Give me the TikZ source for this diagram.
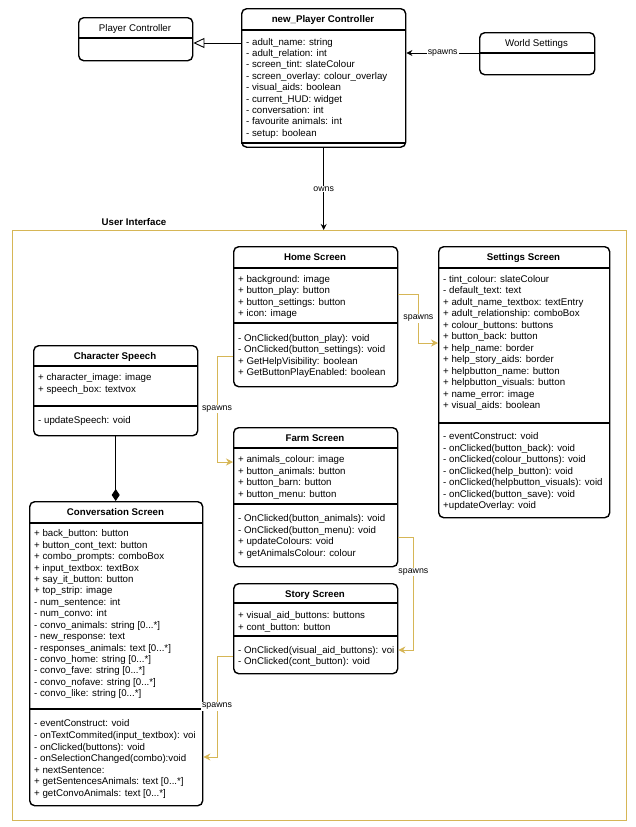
\documentclass[tikz,border=0pt]{standalone}
\usepackage{fontspec}
\setmainfont{Liberation Sans}
\usetikzlibrary{arrows.meta,calc}
\definecolor{gold}{HTML}{D6B656}
\newcommand\thrdots{...}
\newcommand\memlist[5]{% #1 prefix, #2 x, #3 first baseline, #4 spacing, #5 list
  \foreach \t [count=\i from 0] in {#5} {\node[member] (#1\i) at (#2, #3+\i*#4) {\t};}}
\begin{document}
\begin{tikzpicture}[x=1pt,y=-1pt,
  umlbox/.style={draw, line width=1.4pt, rounded corners=5pt, inner sep=0pt, anchor=north west},
  divl/.style={line width=1.3pt},
  title/.style={font=\fontsize{9.7}{11.5}\selectfont\bfseries, inner sep=0pt, anchor=base},
  plaintitle/.style={font=\fontsize{9.7}{11.5}\selectfont, inner sep=0pt, anchor=base},
  member/.style={font=\fontsize{9.7}{11.5}\selectfont, inner sep=0pt, anchor=base west},
  spawn/.style={draw=gold, line width=0.9pt, -{Stealth[length=7pt,width=7pt]}},
  blackarrow/.style={draw=black, line width=0.9pt, -{Stealth[length=6pt,width=6pt]}},
  lbl/.style={font=\fontsize{8.8}{10}\selectfont, fill=white, inner sep=1pt},
]
\useasboundingbox (0,0) rectangle (636,827);

% ---------- container
\node[draw=gold, line width=1.4pt, inner sep=0pt, anchor=north west,
      minimum width=614pt, minimum height=590pt] (ui) at (12,230) {};
\node[title] (uilbl) at (134,225.5) {User Interface};

% ---------- Player Controller
\node[umlbox, minimum width=114pt, minimum height=43pt] (pc) at (78,17) {};
\draw[divl] (78,38) -- (192,38);
\node[plaintitle] (pct) at (135,31.2) {Player Controller};

% ---------- new_Player Controller
\node[umlbox, minimum width=164pt, minimum height=138.5pt] (np) at (241,8) {};
\draw[divl] (241,30) -- (405,30);
\draw[divl] (241,143) -- (405,143);
\node[title] (npt) at (323,22.5) {new\_Player Controller};
\memlist{npa}{246}{45}{11.4}{{- adult\_name: string},{- adult\_relation: int},{- screen\_tint: slateColour},{- screen\_overlay: colour\_overlay},{- visual\_aids: boolean},{- current\_HUD: widget},{- conversation: int},{- favourite animals: int},{- setup: boolean}}

% ---------- World Settings
\node[umlbox, minimum width=115pt, minimum height=42pt] (ws) at (479,32) {};
\draw[divl] (479,53) -- (594,53);
\node[plaintitle] (wst) at (536.5,46.2) {World Settings};

% ---------- Home Screen
\node[umlbox, minimum width=164pt, minimum height=140pt] (home) at (233,246) {};
\draw[divl] (233,268) -- (397,268);
\draw[divl] (233,323) -- (397,323);
\node[title] (homet) at (315,260.2) {Home Screen};
\memlist{homea}{238}{282.5}{11.4}{{+ background: image},{+ button\_play: button},{+ button\_settings: button},{+ icon: image}}
\memlist{homem}{238}{341.5}{11.4}{{- OnClicked(button\_play): void},{- OnClicked(button\_settings): void},{+ GetHelpVisibility: boolean},{+ GetButtonPlayEnabled: boolean}}

% ---------- Settings Screen
\node[umlbox, minimum width=171pt, minimum height=271pt] (settings) at (438,246) {};
\draw[divl] (438,268) -- (609,268);
\draw[divl] (438,423) -- (609,423);
\node[title] (settingst) at (523.5,260.2) {Settings Screen};
\memlist{seta}{443}{282.5}{11.45}{{- tint\_colour: slateColour},{- default\_text: text},{+ adult\_name\_textbox: textEntry},{+ adult\_relationship: comboBox},{+ colour\_buttons: buttons},{+ button\_back: button},{+ help\_name: border},{+ help\_story\_aids: border},{+ helpbutton\_name: button},{+ helpbutton\_visuals: button},{+ name\_error: image},{+ visual\_aids: boolean}}
\memlist{setm}{443}{439.5}{11.55}{{- eventConstruct: void},{- onClicked(button\_back): void},{- onClicked(colour\_buttons): void},{- onClicked(help\_button): void},{- onClicked(helpbutton\_visuals): void},{- onClicked(button\_save): void},{+updateOverlay: void}}

% ---------- Character Speech
\node[umlbox, minimum width=164pt, minimum height=90pt] (charsp) at (33,345) {};
\draw[divl] (33,366) -- (197,366);
\draw[divl] (33,406) -- (197,406);
\node[title] (charspt) at (115,359.5) {Character Speech};
\memlist{chara}{38}{380.5}{11.8}{{+ character\_image: image},{+ speech\_box: textvox}}
\memlist{charm}{38}{423.5}{11.4}{{- updateSpeech: void}}

% ---------- Conversation Screen
\node[umlbox, minimum width=173pt, minimum height=304pt] (conv) at (29,501) {};
\draw[divl] (29,523) -- (202,523);
\draw[divl] (29,709) -- (202,709);
\node[title] (convt) at (115.5,515.8) {Conversation Screen};
\memlist{conva}{34}{536.8}{11.43}{{+ back\_button: button},{+ button\_cont\_text: button},{+ combo\_prompts: comboBox},{+ input\_textbox: textBox},{+ say\_it\_button: button},{+ top\_strip: image},{- num\_sentence: int},{- num\_convo: int},{- convo\_animals: string [0\thrdots*]},{- new\_response: text},{- responses\_animals: text [0\thrdots*]},{- convo\_home: string [0\thrdots*]},{- convo\_fave: string [0\thrdots*]},{- convo\_nofave: string [0\thrdots*]},{- convo\_like: string [0\thrdots*]}}
\memlist{convm}{34}{726.8}{11.6}{{- eventConstruct: void},{- onTextCommited(input\_textbox): voi},{- onClicked(buttons): void},{- onSelectionChanged(combo):void},{+ nextSentence:},{+ getSentencesAnimals: text [0\thrdots*]},{+ getConvoAnimals: text [0\thrdots*]}}

% ---------- Farm Screen
\node[umlbox, minimum width=164pt, minimum height=139pt] (farm) at (233,427) {};
\draw[divl] (233,448) -- (397,448);
\draw[divl] (233,504) -- (397,504);
\node[title] (farmt) at (315,441.2) {Farm Screen};
\memlist{farma}{238}{462.8}{11.4}{{+ animals\_colour: image},{+ button\_animals: button},{+ button\_barn: button},{+ button\_menu: button}}
\memlist{farmm}{238}{521.8}{11.4}{{- OnClicked(button\_animals): void},{- OnClicked(button\_menu): void},{+ updateColours: void},{+ getAnimalsColour: colour}}

% ---------- Story Screen
\node[umlbox, minimum width=164pt, minimum height=90pt] (story) at (233,583) {};
\draw[divl] (233,603) -- (397,603);
\draw[divl] (233,636) -- (397,636);
\node[title] (storyt) at (315,597.5) {Story Screen};
\memlist{storya}{238}{618.5}{11.6}{{+ visual\_aid\_buttons: buttons},{+ cont\_button: button}}
\memlist{storym}{238}{653.5}{11.3}{{- OnClicked(visual\_aid\_buttons): voi},{- OnClicked(cont\_button): void}}

% ---------- connectors
\draw[line width=0.9pt, -{Triangle[open,length=11pt,width=10pt]}]
  ([yshift=-35pt]np.north west) -- (pc.east |- 0,43);
\draw[blackarrow] (ws.west |- 0,53) -- node[lbl]{spawns} (np.east |- 0,53);
\draw[blackarrow, line width=1.1pt] (np.south) -- node[lbl]{owns} (np.south |- ui.north);
\draw[line width=0.9pt, -{Diamond[length=12pt,width=8pt]}]
  (charsp.south) -- (charsp.south |- conv.north);

\draw[spawn] ([yshift=-48pt]home.north east) -- ++(20,0) -- node[lbl]{spawns} ++(0,49) -- (settings.west |- 0,343);
\draw[spawn] ([yshift=-110pt]home.north west) -- ++(-16,0) -- node[lbl]{spawns} ++(0,106) -- (farm.west |- 0,462);
\draw[spawn] ([yshift=-110pt]farm.north east) -- ++(15,0) -- node[lbl,pos=0.31]{spawns} ++(0,113) -- (story.east |- 0,650);
\draw[spawn] ([yshift=-73pt]story.north west) -- ++(-16,0) -- node[lbl]{spawns} ++(0,101) -- (conv.east |- 0,757);
\end{tikzpicture}
\end{document}
